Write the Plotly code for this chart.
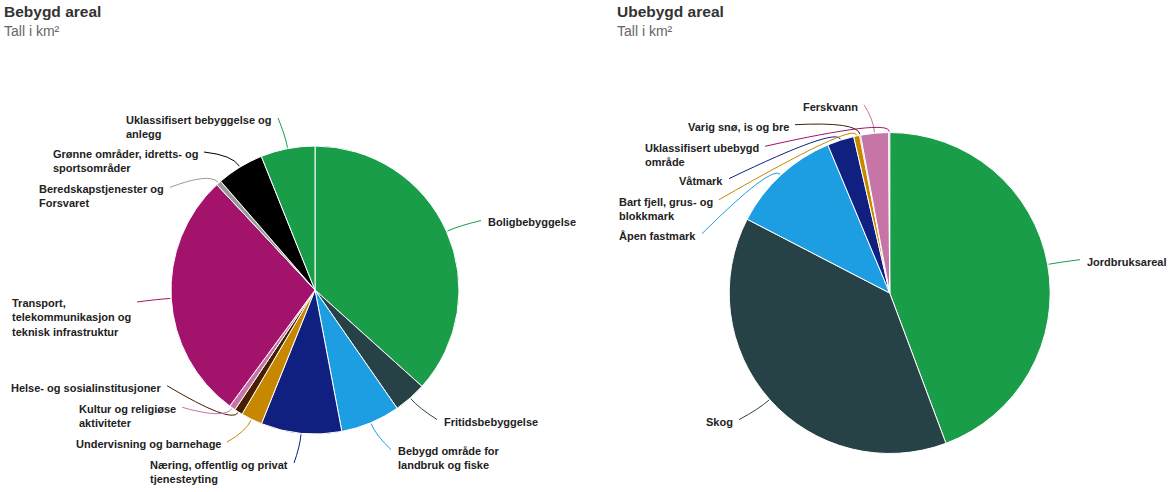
import math
import plotly.graph_objects as go

W, H = 1168, 492

# ---------------- data ----------------
built_labels = [
    "Boligbebyggelse", "Fritidsbebyggelse", "Bebygd område for landbruk og fiske",
    "Næring, offentlig og privat tjenesteyting", "Undervisning og barnehage",
    "Helse- og sosialinstitusjoner", "Kultur og religiøse aktiviteter",
    "Transport, telekommunikasjon og teknisk infrastruktur",
    "Beredskapstjenester og Forsvaret", "Grønne områder, idretts- og sportsområder",
    "Uklassifisert bebyggelse og anlegg",
]
built_values = [1467, 147, 267, 362, 96, 37, 28, 1119, 23, 212, 243]

unbuilt_labels = [
    "Jordbruksareal", "Skog", "Åpen fastmark", "Våtmark", "Bart fjell, grus- og blokkmark",
    "Varig snø, is og bre", "Ferskvann", "Uklassifisert ubebygd område",
]
unbuilt_values = [4430, 3830, 1110, 270, 60, 10, 280, 10]

# ---------------- styles ----------------
built_colors = ["#1a9d49", "#274247", "#1d9de2", "#0f2080", "#c78800", "#471f00",
                "#c775a7", "#a3136c", "#9a9a9a", "#000000", "#1a9d49"]
unbuilt_colors = ["#1a9d49", "#274247", "#1d9de2", "#0f2080", "#c78800", "#471f00",
                  "#c775a7", "#a3136c"]

# display text, label anchor x (px), first-line centre y (px), side
built_text = [
    ("Boligbebyggelse", 488, 222.5, "right"),
    ("Fritidsbebyggelse", 444, 421.5, "right"),
    ("Bebygd område for<br>landbruk og fiske", 398, 451.5, "right"),
    ("Næring, offentlig og privat<br>tjenesteyting", 288, 465, "left"),
    ("Undervisning og barnehage", 221, 444, "left"),
    ("Helse- og sosialinstitusjoner", 161, 387.7, "left"),
    ("Kultur og religiøse<br>aktiviteter", 176, 409.3, "left"),
    ("Transport,<br>telekommunikasjon og<br>teknisk infrastruktur", 131, 304, "left"),
    ("Beredskapstjenester og<br>Forsvaret", 164, 189.3, "left"),
    ("Grønne områder, idretts- og<br>sportsområder", 198, 154, "left"),
    ("Uklassifisert bebyggelse og<br>anlegg", 272, 120, "left"),
]
unbuilt_text = [
    ("Jordbruksareal", 1087, 261.7, "right"),
    ("Skog", 733, 421.7, "left"),
    ("Åpen fastmark", 696, 235.7, "left"),
    ("Våtmark", 723, 180.7, "left"),
    ("Bart fjell, grus- og<br>blokkmark", 713, 201.7, "left"),
    ("Varig snø, is og bre", 789, 126.7, "left"),
    ("Ferskvann", 858, 106.7, "left"),
    ("Uklassifisert ubebygd<br>område", 759, 148.3, "left"),
]

pies = [
    dict(labels=built_labels, values=built_values, colors=built_colors,
         text=built_text, cx=315, cy=290, r=144),
    dict(labels=unbuilt_labels, values=unbuilt_values, colors=unbuilt_colors,
         text=unbuilt_text, cx=889.7, cy=293, r=160.5),
]

FONT = "Liberation Sans, Arial, Helvetica, sans-serif"
LABEL_SIZE = 11
LINE_H = 13.9
PAD = 2  # annotation inner padding compensation


def px(x):
    return x / W


def py(y):
    return 1 - y / H


fig = go.Figure()
shapes = []
annotations = []

for p in pies:
    cx, cy, r = p["cx"], p["cy"], p["r"]
    fig.add_trace(go.Pie(
        labels=p["labels"], values=p["values"], sort=False, direction="clockwise",
        rotation=0, textinfo="none", hoverinfo="label+value+percent",
        marker=dict(colors=p["colors"], line=dict(color="white", width=1)),
        domain=dict(x=[px(cx - r), px(cx + r)], y=[py(cy + r), py(cy - r)]),
        showlegend=False,
    ))
    total = sum(p["values"])
    cum = 0
    for val, col, (txt, ax, ay, side) in zip(p["values"], p["colors"], p["text"]):
        mid = 2 * math.pi * (cum + val / 2) / total
        cum += val
        ex, ey = cx + (r + 1) * math.sin(mid), cy - (r + 1) * math.cos(mid)
        bx, by = cx + (r + 14) * math.sin(mid), cy - (r + 14) * math.cos(mid)
        sx = ax - 7 if side == "right" else ax + 6
        sy = ay - 2
        path = (f"M {px(sx)},{py(sy)} Q {px(bx)},{py(by)} {px(ex)},{py(ey)}")
        shapes.append(dict(type="path", path=path, xref="paper", yref="paper",
                           line=dict(color=col, width=1)))
        n = txt.count("<br>") + 1
        yc = ay + (n - 1) * LINE_H / 2
        tx = ax - PAD if side == "right" else ax + PAD
        annotations.append(dict(
            text=f"<b>{txt}</b>", x=px(tx), y=py(yc), xref="paper", yref="paper",
            xanchor="left" if side == "right" else "right", yanchor="middle",
            align="left", showarrow=False,
            font=dict(family=FONT, size=LABEL_SIZE, color="#222222"),
        ))

for title, x in [("Bebygd areal", 5), ("Ubebygd areal", 618)]:
    annotations.append(dict(text=f"<b>{title}</b>", x=px(x - 3), y=py(11.5), xref="paper",
                            yref="paper", xanchor="left", yanchor="middle", showarrow=False,
                            font=dict(family=FONT, size=15.5, color="#333333")))
    annotations.append(dict(text="Tall i km²", x=px(x - 3), y=py(30.5), xref="paper",
                            yref="paper", xanchor="left", yanchor="middle", showarrow=False,
                            font=dict(family=FONT, size=14, color="#666666")))

fig.update_layout(
    width=W, height=H, margin=dict(l=0, r=0, t=0, b=0),
    paper_bgcolor="white", plot_bgcolor="white",
    shapes=shapes, annotations=annotations,
)

fig.write_html("out.html", config={"displayModeBar": False},
               post_script="document.body.style.margin='0px';")
